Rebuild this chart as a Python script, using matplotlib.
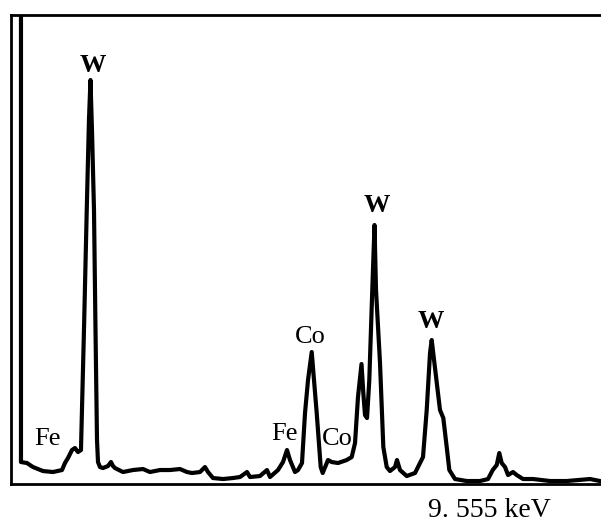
import matplotlib
matplotlib.use("Agg")
import matplotlib.pyplot as plt

# EDS spectrum: energy (keV) and counts (arbitrary)
energy = [0.172, 0.172, 0.312, 0.451, 0.684, 0.916, 1.126, 1.195, 1.265, 1.358,
          1.428, 1.498, 1.567, 1.637, 1.707, 1.753, 1.788, 1.823, 1.870, 1.905,
          1.940, 1.963, 2.009, 2.079, 2.195, 2.265, 2.312, 2.358, 2.544, 2.777,
          3.009, 3.172, 3.405, 3.637, 3.870, 4.033, 4.149, 4.335, 4.451, 4.521,
          4.637, 4.870, 5.102, 5.265, 5.428, 5.498, 5.730, 5.893, 5.963, 6.149,
          6.265, 6.358, 6.428, 6.544, 6.614, 6.707, 6.777, 6.847, 6.933, 6.986,
          7.049, 7.142, 7.188, 7.312, 7.398, 7.544, 7.747, 7.863, 7.940, 8.009,
          8.091, 8.133, 8.172, 8.219, 8.272, 8.328, 8.393, 8.428, 8.521, 8.598,
          8.677, 8.753, 8.870, 8.916, 8.986, 9.142, 9.335, 9.451, 9.521, 9.607,
          9.684, 9.723, 9.800, 9.916, 9.993, 10.072, 10.133, 10.265, 10.537, 10.847,
          11.033, 11.142, 11.235, 11.295, 11.351, 11.428, 11.498, 11.614, 11.700, 11.847,
          12.079, 12.474, 12.863, 13.405, 13.637]
counts = [5000, 220, 210, 170, 130, 120, 140, 210, 260, 340,
          360, 320, 340, 1540, 2840, 3640, 4040, 3540, 2740, 1540,
          440, 220, 170, 160, 180, 220, 180, 160, 120, 140,
          150, 120, 140, 140, 150, 120, 110, 120, 170, 120,
          60, 50, 60, 70, 120, 70, 80, 140, 70, 140,
          220, 340, 240, 120, 140, 210, 710, 1040, 1320, 1040,
          710, 170, 110, 240, 220, 210, 240, 270, 410, 870,
          1200, 910, 690, 660, 1040, 1770, 2590, 1940, 1210, 370,
          170, 130, 170, 240, 140, 80, 110, 210, 270, 740,
          1310, 1440, 1160, 740, 660, 370, 140, 50, 30, 30,
          50, 140, 190, 310, 210, 170, 90, 120, 90, 50,
          50, 30, 30, 50, 30]

# peak labels: element, energy, count at text baseline
peak_names = ["W", "Fe", "Fe", "Co", "Co", "W", "W"]
peak_keV = [1.85, 0.78, 6.31, 6.89, 7.52, 8.44, 9.70]
peak_y = [4120, 390, 440, 1410, 390, 2720, 1560]

plt.rcParams['font.family'] = ['Liberation Serif', 'DejaVu Serif']

fig = plt.figure(figsize=(6.01, 5.26), dpi=100)
ax = fig.add_axes([0.0183, 0.0798, 0.9817, 0.8926])
ax.plot(energy, counts, color='k', lw=3.0, solid_joinstyle='round')
ax.set_xlim(-0.06, 13.66)
ax.set_ylim(0, 4695)
ax.set_xticks([])
ax.set_yticks([])
for s in ['left', 'top', 'bottom']:
    ax.spines[s].set_linewidth(2.0)
ax.spines['right'].set_visible(False)

for name, x, y in zip(peak_names, peak_keV, peak_y):
    ax.text(x, y, name, ha='center', va='baseline', fontsize=19, color='k',
            fontweight='bold' if name == "W" else 'normal')

fig.text(0.815, 0.018, "9. 555 keV", ha='center', va='baseline', fontsize=20)

fig.savefig("out.png", dpi=100)
